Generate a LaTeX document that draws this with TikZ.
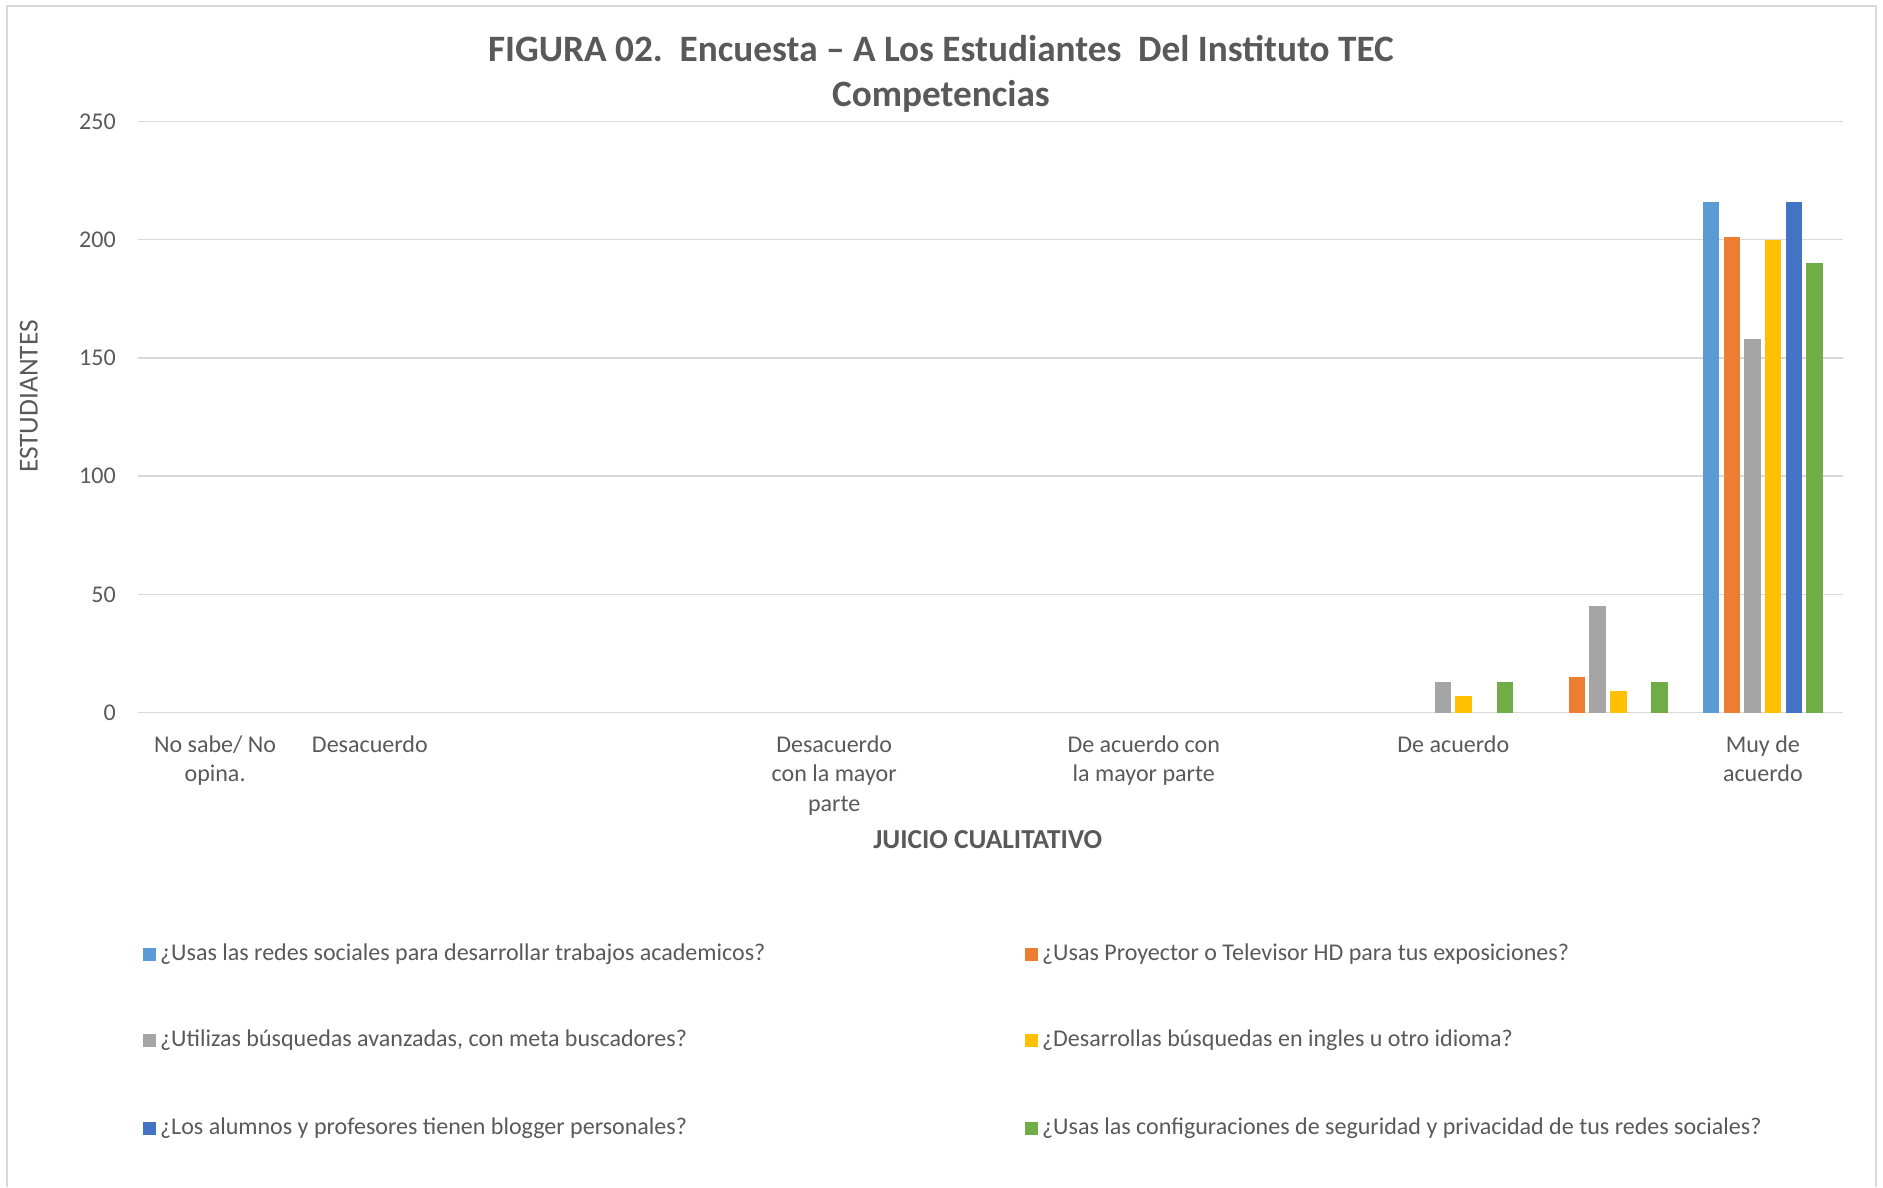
\documentclass[tikz,border=0pt]{standalone}
\usepackage{fontspec}
\setmainfont{Carlito}
\usetikzlibrary{positioning}
\definecolor{azulclaro}{HTML}{5B9BD5}
\definecolor{naranja}{HTML}{ED7D31}
\definecolor{gris}{HTML}{A5A5A5}
\definecolor{amarillo}{HTML}{FFC000}
\definecolor{azul}{HTML}{4472C4}
\definecolor{verde}{HTML}{70AD47}
\definecolor{rejilla}{HTML}{D9D9D9}
\definecolor{texto}{HTML}{595959}

\begin{document}
\begin{tikzpicture}[x=1pt,y=1pt,
    titulo/.style={text=texto,font=\fontsize{31}{38}\selectfont\bfseries,inner sep=0pt},
    etiqueta/.style={text=texto,font=\fontsize{20}{24.5}\selectfont,inner sep=0pt},
    eje/.style={text=texto,font=\fontsize{22.8}{26}\selectfont,inner sep=0pt},
    cuadro/.style={minimum size=11pt,inner sep=0pt}]
    \useasboundingbox (0,0) rectangle (1567,988);
    % ---- Marco del grafico ----
    \draw[rejilla,line width=1.2pt] (6,0) -- (6,983) -- (1561,983) -- (1561,0);

    % ---- Titulo ----
    \node[titulo] (tit1) at (783,948) {FIGURA 02.\ \ Encuesta – A Los Estudiantes\ \ Del Instituto TEC};
    \node[titulo] (tit2) at (783,908) {Competencias};

    % ---- Lineas de rejilla ----
    \draw[rejilla,line width=1.2pt] (115,395) -- (1534,395);
    \draw[rejilla,line width=1.2pt] (115,493.4) -- (1534,493.4);
    \draw[rejilla,line width=1.2pt] (115,591.8) -- (1534,591.8);
    \draw[rejilla,line width=1.2pt] (115,690.2) -- (1534,690.2);
    \draw[rejilla,line width=1.2pt] (115,788.6) -- (1534,788.6);
    \draw[rejilla,line width=1.2pt] (115,887) -- (1534,887);

    % ---- Eje vertical ----
    \node[etiqueta,anchor=east] (v0) at (96.5,395) {0};
    \node[etiqueta,anchor=east] (v50) at (96.5,493.4) {50};
    \node[etiqueta,anchor=east] (v100) at (96.5,591.8) {100};
    \node[etiqueta,anchor=east] (v150) at (96.5,690.2) {150};
    \node[etiqueta,anchor=east] (v200) at (96.5,788.6) {200};
    \node[etiqueta,anchor=east] (v250) at (96.5,887) {250};
    \node[eje,rotate=90] (ejey) at (24,658) {ESTUDIANTES};

    % ---- Barras (valores en estudiantes) ----
    \begin{scope}[shift={(0,395)},y=1.968pt]
        % De acuerdo
        \fill[gris]     (1193.9,0) rectangle ++(13.8,13);
        \fill[amarillo] (1211.1,0) rectangle ++(13.8,7);
        \fill[verde]    (1245.5,0) rectangle ++(13.8,13);
        % grupo sin etiqueta
        \fill[naranja]  (1305.5,0) rectangle ++(13.8,15);
        \fill[gris]     (1322.7,0) rectangle ++(13.8,45);
        \fill[amarillo] (1339.9,0) rectangle ++(13.8,9);
        \fill[verde]    (1374.3,0) rectangle ++(13.8,13);
        % Muy de acuerdo
        \fill[azulclaro] (1417.1,0) rectangle ++(13.8,216);
        \fill[naranja]   (1434.3,0) rectangle ++(13.8,201);
        \fill[gris]      (1451.5,0) rectangle ++(13.8,158);
        \fill[amarillo]  (1468.7,0) rectangle ++(13.8,200);
        \fill[azul]      (1485.9,0) rectangle ++(13.8,216);
        \fill[verde]     (1503.1,0) rectangle ++(13.8,190);
    \end{scope}

    % ---- Categorias ----
    \node[etiqueta,anchor=north,align=center] (c0) at (179,376) {No sabe/ No\\opina.};
    \node[etiqueta,anchor=north,align=center] (c1) at (307.8,376) {Desacuerdo};
    \node[etiqueta,anchor=north,align=center] (c4) at (694.2,376) {Desacuerdo\\con la mayor\\parte};
    \node[etiqueta,anchor=north,align=center] (c6) at (951.8,376) {De acuerdo con\\la mayor parte};
    \node[etiqueta,anchor=north,align=center] (c8) at (1209.4,376) {De acuerdo};
    \node[etiqueta,anchor=north,align=center] (c10) at (1467,376) {Muy de\\acuerdo};
    \node[eje,font=\fontsize{22.8}{26}\selectfont\bfseries] (ejex) at (822,289) {JUICIO CUALITATIVO};

    % ---- Leyenda ----
    \node[etiqueta,anchor=west] (ley1) at (133,194) {¿Usas las redes sociales para desarrollar trabajos academicos?};
    \node[etiqueta,anchor=west] (ley2) at (867,194) {¿Usas Proyector o Televisor HD para tus exposiciones?};
    \node[etiqueta,anchor=west] (ley3) at (133,122) {¿Utilizas búsquedas avanzadas, con meta buscadores?};
    \node[etiqueta,anchor=west] (ley4) at (867,122) {¿Desarrollas búsquedas en ingles u otro idioma?};
    \node[etiqueta,anchor=west] (ley5) at (133,49) {¿Los alumnos y profesores tienen blogger personales?};
    \node[etiqueta,anchor=west] (ley6) at (867,49) {¿Usas las configuraciones de seguridad y privacidad de tus redes sociales?};
    \node[cuadro,fill=azulclaro,left=3pt of ley1] (m1) {};
    \node[cuadro,fill=naranja,left=3pt of ley2] (m2) {};
    \node[cuadro,fill=gris,left=3pt of ley3] (m3) {};
    \node[cuadro,fill=amarillo,left=3pt of ley4] (m4) {};
    \node[cuadro,fill=azul,left=3pt of ley5] (m5) {};
    \node[cuadro,fill=verde,left=3pt of ley6] (m6) {};

\end{tikzpicture}
\end{document}
